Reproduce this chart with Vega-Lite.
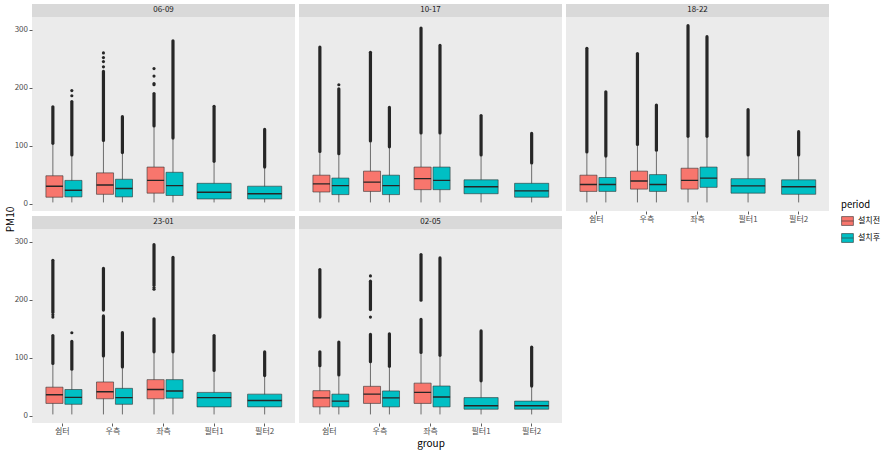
{
"$schema": "https://vega.github.io/schema/vega-lite/v6.json",
"background": "white",
"padding": {"left": 5, "top": 4, "right": 5, "bottom": 4},
"datasets": {
"strips": [{"slot":"06-09"},{"slot":"10-17"},{"slot":"18-22"},{"slot":"23-01"},{"slot":"02-05"}],
"boxes": [
{"slot":"06-09","group":"쉼터","period":"설치전","lower":2,"q1":11,"median":30,"q3":48,"upper":102},
{"slot":"06-09","group":"쉼터","period":"설치후","lower":2,"q1":11.5,"median":23,"q3":40,"upper":82},
{"slot":"06-09","group":"우측","period":"설치전","lower":2,"q1":16,"median":32,"q3":53,"upper":107},
{"slot":"06-09","group":"우측","period":"설치후","lower":2,"q1":11.5,"median":26,"q3":42,"upper":86},
{"slot":"06-09","group":"좌측","period":"설치전","lower":2,"q1":18,"median":40,"q3":63,"upper":132},
{"slot":"06-09","group":"좌측","period":"설치후","lower":2,"q1":14,"median":31,"q3":54,"upper":111},
{"slot":"06-09","group":"필터1","period":"설치후","lower":2,"q1":8,"median":19.5,"q3":35,"upper":71},
{"slot":"06-09","group":"필터2","period":"설치후","lower":2,"q1":8,"median":17,"q3":30,"upper":61},
{"slot":"10-17","group":"쉼터","period":"설치전","lower":2,"q1":20,"median":34,"q3":49,"upper":88.5},
{"slot":"10-17","group":"쉼터","period":"설치후","lower":2,"q1":15.5,"median":31,"q3":44,"upper":84.5},
{"slot":"10-17","group":"우측","period":"설치전","lower":2,"q1":21,"median":37,"q3":56,"upper":106},
{"slot":"10-17","group":"우측","period":"설치후","lower":2,"q1":15.5,"median":31,"q3":49,"upper":96},
{"slot":"10-17","group":"좌측","period":"설치전","lower":2,"q1":24,"median":43,"q3":63,"upper":120},
{"slot":"10-17","group":"좌측","period":"설치후","lower":2,"q1":24,"median":40,"q3":63,"upper":120},
{"slot":"10-17","group":"필터1","period":"설치후","lower":2,"q1":17,"median":29,"q3":41,"upper":82},
{"slot":"10-17","group":"필터2","period":"설치후","lower":2,"q1":11,"median":22,"q3":35,"upper":68},
{"slot":"18-22","group":"쉼터","period":"설치전","lower":2,"q1":21,"median":33,"q3":49,"upper":87},
{"slot":"18-22","group":"쉼터","period":"설치후","lower":2,"q1":21,"median":33,"q3":45,"upper":80},
{"slot":"18-22","group":"우측","period":"설치전","lower":2,"q1":25,"median":39,"q3":56,"upper":100},
{"slot":"18-22","group":"우측","period":"설치후","lower":2,"q1":21,"median":33,"q3":50,"upper":90},
{"slot":"18-22","group":"좌측","period":"설치전","lower":2,"q1":25,"median":40,"q3":61,"upper":114},
{"slot":"18-22","group":"좌측","period":"설치후","lower":2,"q1":28,"median":44,"q3":63,"upper":114},
{"slot":"18-22","group":"필터1","period":"설치후","lower":2,"q1":18,"median":30.5,"q3":43,"upper":82},
{"slot":"18-22","group":"필터2","period":"설치후","lower":2,"q1":16,"median":29,"q3":41,"upper":82},
{"slot":"23-01","group":"쉼터","period":"설치전","lower":2,"q1":21,"median":36,"q3":49,"upper":88},
{"slot":"23-01","group":"쉼터","period":"설치후","lower":2,"q1":19.5,"median":31.5,"q3":45,"upper":78},
{"slot":"23-01","group":"우측","period":"설치전","lower":2,"q1":29,"median":41,"q3":58,"upper":101},
{"slot":"23-01","group":"우측","period":"설치후","lower":2,"q1":19.5,"median":31,"q3":47,"upper":82},
{"slot":"23-01","group":"좌측","period":"설치전","lower":2,"q1":29,"median":45,"q3":62,"upper":108},
{"slot":"23-01","group":"좌측","period":"설치후","lower":2,"q1":30,"median":42.5,"q3":62,"upper":108},
{"slot":"23-01","group":"필터1","period":"설치후","lower":2,"q1":15,"median":31,"q3":40,"upper":76},
{"slot":"23-01","group":"필터2","period":"설치후","lower":2,"q1":15,"median":26,"q3":37,"upper":67},
{"slot":"02-05","group":"쉼터","period":"설치전","lower":2,"q1":15,"median":30.5,"q3":43,"upper":84},
{"slot":"02-05","group":"쉼터","period":"설치후","lower":2,"q1":15,"median":25,"q3":37,"upper":68},
{"slot":"02-05","group":"우측","period":"설치전","lower":2,"q1":21,"median":37,"q3":50.5,"upper":91},
{"slot":"02-05","group":"우측","period":"설치후","lower":2,"q1":15,"median":30.5,"q3":42.5,"upper":83},
{"slot":"02-05","group":"좌측","period":"설치전","lower":2,"q1":21,"median":40,"q3":56,"upper":107},
{"slot":"02-05","group":"좌측","period":"설치후","lower":2,"q1":15,"median":32,"q3":51,"upper":102},
{"slot":"02-05","group":"필터1","period":"설치후","lower":2,"q1":11,"median":17,"q3":31,"upper":58},
{"slot":"02-05","group":"필터2","period":"설치후","lower":2,"q1":11,"median":17,"q3":25,"upper":49}
],
"outliers": [
{"slot":"06-09","group":"쉼터","period":"설치전","from":104,"to":167},
{"slot":"06-09","group":"쉼터","period":"설치후","from":84,"to":176},
{"slot":"06-09","group":"우측","period":"설치전","from":109,"to":228},
{"slot":"06-09","group":"우측","period":"설치후","from":88,"to":150},
{"slot":"06-09","group":"좌측","period":"설치전","from":134,"to":190},
{"slot":"06-09","group":"좌측","period":"설치후","from":113,"to":281},
{"slot":"06-09","group":"필터1","period":"설치후","from":73,"to":168},
{"slot":"06-09","group":"필터2","period":"설치후","from":63,"to":128},
{"slot":"10-17","group":"쉼터","period":"설치전","from":90,"to":270},
{"slot":"10-17","group":"쉼터","period":"설치후","from":86,"to":198},
{"slot":"10-17","group":"우측","period":"설치전","from":108,"to":261},
{"slot":"10-17","group":"우측","period":"설치후","from":98,"to":166},
{"slot":"10-17","group":"좌측","period":"설치전","from":122,"to":303},
{"slot":"10-17","group":"좌측","period":"설치후","from":122,"to":273},
{"slot":"10-17","group":"필터1","period":"설치후","from":84,"to":152},
{"slot":"10-17","group":"필터2","period":"설치후","from":70,"to":121},
{"slot":"18-22","group":"쉼터","period":"설치전","from":89,"to":268},
{"slot":"18-22","group":"쉼터","period":"설치후","from":82,"to":193},
{"slot":"18-22","group":"우측","period":"설치전","from":102,"to":259},
{"slot":"18-22","group":"우측","period":"설치후","from":92,"to":170},
{"slot":"18-22","group":"좌측","period":"설치전","from":116,"to":307},
{"slot":"18-22","group":"좌측","period":"설치후","from":116,"to":288},
{"slot":"18-22","group":"필터1","period":"설치후","from":84,"to":162},
{"slot":"18-22","group":"필터2","period":"설치후","from":84,"to":124},
{"slot":"23-01","group":"쉼터","period":"설치전","from":90,"to":138},
{"slot":"23-01","group":"쉼터","period":"설치전","from":178,"to":268},
{"slot":"23-01","group":"쉼터","period":"설치후","from":80,"to":128},
{"slot":"23-01","group":"우측","period":"설치전","from":103,"to":172},
{"slot":"23-01","group":"우측","period":"설치전","from":182,"to":254},
{"slot":"23-01","group":"우측","period":"설치후","from":84,"to":143},
{"slot":"23-01","group":"좌측","period":"설치전","from":110,"to":167},
{"slot":"23-01","group":"좌측","period":"설치전","from":225,"to":295},
{"slot":"23-01","group":"좌측","period":"설치후","from":110,"to":273},
{"slot":"23-01","group":"필터1","period":"설치후","from":78,"to":138},
{"slot":"23-01","group":"필터2","period":"설치후","from":69,"to":110},
{"slot":"02-05","group":"쉼터","period":"설치전","from":86,"to":110},
{"slot":"02-05","group":"쉼터","period":"설치전","from":170,"to":252},
{"slot":"02-05","group":"쉼터","period":"설치후","from":70,"to":127},
{"slot":"02-05","group":"우측","period":"설치전","from":93,"to":140},
{"slot":"02-05","group":"우측","period":"설치전","from":183,"to":232},
{"slot":"02-05","group":"우측","period":"설치후","from":85,"to":141},
{"slot":"02-05","group":"좌측","period":"설치전","from":109,"to":166},
{"slot":"02-05","group":"좌측","period":"설치전","from":199,"to":278},
{"slot":"02-05","group":"좌측","period":"설치후","from":104,"to":272},
{"slot":"02-05","group":"필터1","period":"설치후","from":60,"to":146},
{"slot":"02-05","group":"필터2","period":"설치후","from":51,"to":118}
],
"points": [
{"slot":"06-09","group":"쉼터","period":"설치후","value":186},
{"slot":"06-09","group":"쉼터","period":"설치후","value":195},
{"slot":"06-09","group":"우측","period":"설치전","value":236},
{"slot":"06-09","group":"우측","period":"설치전","value":245},
{"slot":"06-09","group":"우측","period":"설치전","value":252},
{"slot":"06-09","group":"우측","period":"설치전","value":260},
{"slot":"06-09","group":"좌측","period":"설치전","value":205},
{"slot":"06-09","group":"좌측","period":"설치전","value":207},
{"slot":"06-09","group":"좌측","period":"설치전","value":220},
{"slot":"06-09","group":"좌측","period":"설치전","value":233},
{"slot":"10-17","group":"쉼터","period":"설치후","value":205},
{"slot":"23-01","group":"쉼터","period":"설치전","value":170},
{"slot":"23-01","group":"쉼터","period":"설치전","value":174},
{"slot":"23-01","group":"쉼터","period":"설치후","value":143},
{"slot":"23-01","group":"좌측","period":"설치전","value":218},
{"slot":"23-01","group":"좌측","period":"설치전","value":221},
{"slot":"02-05","group":"우측","period":"설치전","value":170},
{"slot":"02-05","group":"우측","period":"설치전","value":241}
]
},
"concat": [
{"width": 263, "height": 207, "layer": [
{"data": {"name": "strips"}, "transform": [{"filter": "datum.slot === '06-09'"}], "mark": {"type": "rect", "fill": "#D9D9D9"}, "encoding": {"y": {"datum": 322, "type": "quantitative", "scale": {"domain": [-12.8, 344.4], "nice": false, "zero": false}, "axis": {"values": [0,50,100,150,200,250,300], "labelExpr": "datum.value % 100 === 0 ? datum.label : ''", "tickOpacity": {"condition": {"test": "datum.value % 100 === 0", "value": 1}, "value": 0}, "gridWidth": {"condition": {"test": "datum.value % 100 === 0", "value": 1.1}, "value": 0.5}, "title": null}}, "y2": {"datum": 344.4}}},
{"data": {"name": "strips"}, "transform": [{"filter": "datum.slot === '06-09'"}], "mark": {"type": "text", "fontSize": 8, "color": "#1A1A1A", "baseline": "middle"}, "encoding": {"y": {"datum": 333.2, "type": "quantitative"}, "text": {"field": "slot", "type": "nominal"}}},
{"data": {"name": "boxes"}, "transform": [{"filter": "datum.slot === '06-09' && datum.group !== '필터1' && datum.group !== '필터2'"}], "mark": {"type": "rule", "color": "#4D4D4D", "strokeWidth": 0.8}, "encoding": {"x": {"field": "group", "type": "nominal", "scale": {"domain": ["쉼터","우측","좌측","필터1","필터2"], "paddingInner": 0, "paddingOuter": 0.1}, "axis": {"bandPosition": 0.5, "labels": false, "ticks": false, "title": null, "gridWidth": 1.1}}, "xOffset": {"field": "period", "type": "nominal", "scale": {"domain": ["설치전","설치후"], "paddingInner": 0, "paddingOuter": 0.3333}}, "y": {"field": "lower", "type": "quantitative"}, "y2": {"field": "upper"}}},
{"data": {"name": "boxes"}, "transform": [{"filter": "datum.slot === '06-09' && datum.group !== '필터1' && datum.group !== '필터2'"}], "mark": {"type": "bar", "width": {"band": 0.9}, "stroke": "#333333", "strokeWidth": 0.6}, "encoding": {"x": {"field": "group", "type": "nominal"}, "xOffset": {"field": "period", "type": "nominal"}, "y": {"field": "q1", "type": "quantitative"}, "y2": {"field": "q3"}, "fill": {"field": "period", "type": "nominal", "scale": {"domain": ["설치전","설치후"], "range": ["#F8766D","#00BFC4"]}, "legend": {"title": "period"}}}},
{"data": {"name": "boxes"}, "transform": [{"filter": "datum.slot === '06-09' && datum.group !== '필터1' && datum.group !== '필터2'"}], "mark": {"type": "bar", "width": {"band": 0.9}, "fill": "#262626", "stroke": "#262626", "strokeWidth": 1.4}, "encoding": {"x": {"field": "group", "type": "nominal"}, "xOffset": {"field": "period", "type": "nominal"}, "y": {"field": "median", "type": "quantitative"}, "y2": {"field": "median"}}},
{"data": {"name": "outliers"}, "transform": [{"filter": "datum.slot === '06-09' && datum.group !== '필터1' && datum.group !== '필터2'"}], "mark": {"type": "rule", "color": "#262626", "strokeWidth": 3.2, "strokeCap": "round"}, "encoding": {"x": {"field": "group", "type": "nominal"}, "xOffset": {"field": "period", "type": "nominal"}, "y": {"field": "from", "type": "quantitative"}, "y2": {"field": "to"}}},
{"data": {"name": "points"}, "transform": [{"filter": "datum.slot === '06-09'"}], "mark": {"type": "circle", "size": 10, "color": "#262626", "opacity": 1}, "encoding": {"x": {"field": "group", "type": "nominal"}, "xOffset": {"field": "period", "type": "nominal"}, "y": {"field": "value", "type": "quantitative"}}},
{"data": {"name": "boxes"}, "transform": [{"filter": "datum.slot === '06-09' && (datum.group === '필터1' || datum.group === '필터2')"}], "mark": {"type": "rule", "color": "#4D4D4D", "strokeWidth": 0.8}, "encoding": {"x": {"field": "group", "type": "nominal"}, "y": {"field": "lower", "type": "quantitative"}, "y2": {"field": "upper"}}},
{"data": {"name": "boxes"}, "transform": [{"filter": "datum.slot === '06-09' && (datum.group === '필터1' || datum.group === '필터2')"}], "mark": {"type": "bar", "width": {"band": 0.675}, "stroke": "#333333", "strokeWidth": 0.6}, "encoding": {"x": {"field": "group", "type": "nominal"}, "y": {"field": "q1", "type": "quantitative"}, "y2": {"field": "q3"}, "fill": {"field": "period", "type": "nominal"}}},
{"data": {"name": "boxes"}, "transform": [{"filter": "datum.slot === '06-09' && (datum.group === '필터1' || datum.group === '필터2')"}], "mark": {"type": "bar", "width": {"band": 0.675}, "fill": "#262626", "stroke": "#262626", "strokeWidth": 1.4}, "encoding": {"x": {"field": "group", "type": "nominal"}, "y": {"field": "median", "type": "quantitative"}, "y2": {"field": "median"}}},
{"data": {"name": "outliers"}, "transform": [{"filter": "datum.slot === '06-09' && (datum.group === '필터1' || datum.group === '필터2')"}], "mark": {"type": "rule", "color": "#262626", "strokeWidth": 3.2, "strokeCap": "round"}, "encoding": {"x": {"field": "group", "type": "nominal"}, "y": {"field": "from", "type": "quantitative"}, "y2": {"field": "to"}}}
]},
{"width": 263, "height": 207, "layer": [
{"data": {"name": "strips"}, "transform": [{"filter": "datum.slot === '10-17'"}], "mark": {"type": "rect", "fill": "#D9D9D9"}, "encoding": {"y": {"datum": 322, "type": "quantitative", "scale": {"domain": [-12.8, 344.4], "nice": false, "zero": false}, "axis": {"values": [0,50,100,150,200,250,300], "labels": false, "ticks": false, "gridWidth": {"condition": {"test": "datum.value % 100 === 0", "value": 1.1}, "value": 0.5}, "title": null}}, "y2": {"datum": 344.4}}},
{"data": {"name": "strips"}, "transform": [{"filter": "datum.slot === '10-17'"}], "mark": {"type": "text", "fontSize": 8, "color": "#1A1A1A", "baseline": "middle"}, "encoding": {"y": {"datum": 333.2, "type": "quantitative"}, "text": {"field": "slot", "type": "nominal"}}},
{"data": {"name": "boxes"}, "transform": [{"filter": "datum.slot === '10-17' && datum.group !== '필터1' && datum.group !== '필터2'"}], "mark": {"type": "rule", "color": "#4D4D4D", "strokeWidth": 0.8}, "encoding": {"x": {"field": "group", "type": "nominal", "scale": {"domain": ["쉼터","우측","좌측","필터1","필터2"], "paddingInner": 0, "paddingOuter": 0.1}, "axis": {"bandPosition": 0.5, "labels": false, "ticks": false, "title": null, "gridWidth": 1.1}}, "xOffset": {"field": "period", "type": "nominal", "scale": {"domain": ["설치전","설치후"], "paddingInner": 0, "paddingOuter": 0.3333}}, "y": {"field": "lower", "type": "quantitative"}, "y2": {"field": "upper"}}},
{"data": {"name": "boxes"}, "transform": [{"filter": "datum.slot === '10-17' && datum.group !== '필터1' && datum.group !== '필터2'"}], "mark": {"type": "bar", "width": {"band": 0.9}, "stroke": "#333333", "strokeWidth": 0.6}, "encoding": {"x": {"field": "group", "type": "nominal"}, "xOffset": {"field": "period", "type": "nominal"}, "y": {"field": "q1", "type": "quantitative"}, "y2": {"field": "q3"}, "fill": {"field": "period", "type": "nominal"}}},
{"data": {"name": "boxes"}, "transform": [{"filter": "datum.slot === '10-17' && datum.group !== '필터1' && datum.group !== '필터2'"}], "mark": {"type": "bar", "width": {"band": 0.9}, "fill": "#262626", "stroke": "#262626", "strokeWidth": 1.4}, "encoding": {"x": {"field": "group", "type": "nominal"}, "xOffset": {"field": "period", "type": "nominal"}, "y": {"field": "median", "type": "quantitative"}, "y2": {"field": "median"}}},
{"data": {"name": "outliers"}, "transform": [{"filter": "datum.slot === '10-17' && datum.group !== '필터1' && datum.group !== '필터2'"}], "mark": {"type": "rule", "color": "#262626", "strokeWidth": 3.2, "strokeCap": "round"}, "encoding": {"x": {"field": "group", "type": "nominal"}, "xOffset": {"field": "period", "type": "nominal"}, "y": {"field": "from", "type": "quantitative"}, "y2": {"field": "to"}}},
{"data": {"name": "points"}, "transform": [{"filter": "datum.slot === '10-17'"}], "mark": {"type": "circle", "size": 10, "color": "#262626", "opacity": 1}, "encoding": {"x": {"field": "group", "type": "nominal"}, "xOffset": {"field": "period", "type": "nominal"}, "y": {"field": "value", "type": "quantitative"}}},
{"data": {"name": "boxes"}, "transform": [{"filter": "datum.slot === '10-17' && (datum.group === '필터1' || datum.group === '필터2')"}], "mark": {"type": "rule", "color": "#4D4D4D", "strokeWidth": 0.8}, "encoding": {"x": {"field": "group", "type": "nominal"}, "y": {"field": "lower", "type": "quantitative"}, "y2": {"field": "upper"}}},
{"data": {"name": "boxes"}, "transform": [{"filter": "datum.slot === '10-17' && (datum.group === '필터1' || datum.group === '필터2')"}], "mark": {"type": "bar", "width": {"band": 0.675}, "stroke": "#333333", "strokeWidth": 0.6}, "encoding": {"x": {"field": "group", "type": "nominal"}, "y": {"field": "q1", "type": "quantitative"}, "y2": {"field": "q3"}, "fill": {"field": "period", "type": "nominal"}}},
{"data": {"name": "boxes"}, "transform": [{"filter": "datum.slot === '10-17' && (datum.group === '필터1' || datum.group === '필터2')"}], "mark": {"type": "bar", "width": {"band": 0.675}, "fill": "#262626", "stroke": "#262626", "strokeWidth": 1.4}, "encoding": {"x": {"field": "group", "type": "nominal"}, "y": {"field": "median", "type": "quantitative"}, "y2": {"field": "median"}}},
{"data": {"name": "outliers"}, "transform": [{"filter": "datum.slot === '10-17' && (datum.group === '필터1' || datum.group === '필터2')"}], "mark": {"type": "rule", "color": "#262626", "strokeWidth": 3.2, "strokeCap": "round"}, "encoding": {"x": {"field": "group", "type": "nominal"}, "y": {"field": "from", "type": "quantitative"}, "y2": {"field": "to"}}}
]},
{"width": 263, "height": 207, "layer": [
{"data": {"name": "strips"}, "transform": [{"filter": "datum.slot === '18-22'"}], "mark": {"type": "rect", "fill": "#D9D9D9"}, "encoding": {"y": {"datum": 322, "type": "quantitative", "scale": {"domain": [-12.8, 344.4], "nice": false, "zero": false}, "axis": {"values": [0,50,100,150,200,250,300], "labels": false, "ticks": false, "gridWidth": {"condition": {"test": "datum.value % 100 === 0", "value": 1.1}, "value": 0.5}, "title": null}}, "y2": {"datum": 344.4}}},
{"data": {"name": "strips"}, "transform": [{"filter": "datum.slot === '18-22'"}], "mark": {"type": "text", "fontSize": 8, "color": "#1A1A1A", "baseline": "middle"}, "encoding": {"y": {"datum": 333.2, "type": "quantitative"}, "text": {"field": "slot", "type": "nominal"}}},
{"data": {"name": "boxes"}, "transform": [{"filter": "datum.slot === '18-22' && datum.group !== '필터1' && datum.group !== '필터2'"}], "mark": {"type": "rule", "color": "#4D4D4D", "strokeWidth": 0.8}, "encoding": {"x": {"field": "group", "type": "nominal", "scale": {"domain": ["쉼터","우측","좌측","필터1","필터2"], "paddingInner": 0, "paddingOuter": 0.1}, "axis": {"bandPosition": 0.5, "labelAngle": 0, "title": null, "gridWidth": 1.1}}, "xOffset": {"field": "period", "type": "nominal", "scale": {"domain": ["설치전","설치후"], "paddingInner": 0, "paddingOuter": 0.3333}}, "y": {"field": "lower", "type": "quantitative"}, "y2": {"field": "upper"}}},
{"data": {"name": "boxes"}, "transform": [{"filter": "datum.slot === '18-22' && datum.group !== '필터1' && datum.group !== '필터2'"}], "mark": {"type": "bar", "width": {"band": 0.9}, "stroke": "#333333", "strokeWidth": 0.6}, "encoding": {"x": {"field": "group", "type": "nominal"}, "xOffset": {"field": "period", "type": "nominal"}, "y": {"field": "q1", "type": "quantitative"}, "y2": {"field": "q3"}, "fill": {"field": "period", "type": "nominal"}}},
{"data": {"name": "boxes"}, "transform": [{"filter": "datum.slot === '18-22' && datum.group !== '필터1' && datum.group !== '필터2'"}], "mark": {"type": "bar", "width": {"band": 0.9}, "fill": "#262626", "stroke": "#262626", "strokeWidth": 1.4}, "encoding": {"x": {"field": "group", "type": "nominal"}, "xOffset": {"field": "period", "type": "nominal"}, "y": {"field": "median", "type": "quantitative"}, "y2": {"field": "median"}}},
{"data": {"name": "outliers"}, "transform": [{"filter": "datum.slot === '18-22' && datum.group !== '필터1' && datum.group !== '필터2'"}], "mark": {"type": "rule", "color": "#262626", "strokeWidth": 3.2, "strokeCap": "round"}, "encoding": {"x": {"field": "group", "type": "nominal"}, "xOffset": {"field": "period", "type": "nominal"}, "y": {"field": "from", "type": "quantitative"}, "y2": {"field": "to"}}},
{"data": {"name": "boxes"}, "transform": [{"filter": "datum.slot === '18-22' && (datum.group === '필터1' || datum.group === '필터2')"}], "mark": {"type": "rule", "color": "#4D4D4D", "strokeWidth": 0.8}, "encoding": {"x": {"field": "group", "type": "nominal"}, "y": {"field": "lower", "type": "quantitative"}, "y2": {"field": "upper"}}},
{"data": {"name": "boxes"}, "transform": [{"filter": "datum.slot === '18-22' && (datum.group === '필터1' || datum.group === '필터2')"}], "mark": {"type": "bar", "width": {"band": 0.675}, "stroke": "#333333", "strokeWidth": 0.6}, "encoding": {"x": {"field": "group", "type": "nominal"}, "y": {"field": "q1", "type": "quantitative"}, "y2": {"field": "q3"}, "fill": {"field": "period", "type": "nominal"}}},
{"data": {"name": "boxes"}, "transform": [{"filter": "datum.slot === '18-22' && (datum.group === '필터1' || datum.group === '필터2')"}], "mark": {"type": "bar", "width": {"band": 0.675}, "fill": "#262626", "stroke": "#262626", "strokeWidth": 1.4}, "encoding": {"x": {"field": "group", "type": "nominal"}, "y": {"field": "median", "type": "quantitative"}, "y2": {"field": "median"}}},
{"data": {"name": "outliers"}, "transform": [{"filter": "datum.slot === '18-22' && (datum.group === '필터1' || datum.group === '필터2')"}], "mark": {"type": "rule", "color": "#262626", "strokeWidth": 3.2, "strokeCap": "round"}, "encoding": {"x": {"field": "group", "type": "nominal"}, "y": {"field": "from", "type": "quantitative"}, "y2": {"field": "to"}}}
]},
{"width": 263, "height": 207, "layer": [
{"data": {"name": "strips"}, "transform": [{"filter": "datum.slot === '23-01'"}], "mark": {"type": "rect", "fill": "#D9D9D9"}, "encoding": {"y": {"datum": 322, "type": "quantitative", "scale": {"domain": [-12.8, 344.4], "nice": false, "zero": false}, "axis": {"values": [0,50,100,150,200,250,300], "labelExpr": "datum.value % 100 === 0 ? datum.label : ''", "tickOpacity": {"condition": {"test": "datum.value % 100 === 0", "value": 1}, "value": 0}, "gridWidth": {"condition": {"test": "datum.value % 100 === 0", "value": 1.1}, "value": 0.5}, "title": "PM10", "titleX": -17, "titleY": 3}}, "y2": {"datum": 344.4}}},
{"data": {"name": "strips"}, "transform": [{"filter": "datum.slot === '23-01'"}], "mark": {"type": "text", "fontSize": 8, "color": "#1A1A1A", "baseline": "middle"}, "encoding": {"y": {"datum": 333.2, "type": "quantitative"}, "text": {"field": "slot", "type": "nominal"}}},
{"data": {"name": "boxes"}, "transform": [{"filter": "datum.slot === '23-01' && datum.group !== '필터1' && datum.group !== '필터2'"}], "mark": {"type": "rule", "color": "#4D4D4D", "strokeWidth": 0.8}, "encoding": {"x": {"field": "group", "type": "nominal", "scale": {"domain": ["쉼터","우측","좌측","필터1","필터2"], "paddingInner": 0, "paddingOuter": 0.1}, "axis": {"bandPosition": 0.5, "labelAngle": 0, "title": null, "gridWidth": 1.1}}, "xOffset": {"field": "period", "type": "nominal", "scale": {"domain": ["설치전","설치후"], "paddingInner": 0, "paddingOuter": 0.3333}}, "y": {"field": "lower", "type": "quantitative"}, "y2": {"field": "upper"}}},
{"data": {"name": "boxes"}, "transform": [{"filter": "datum.slot === '23-01' && datum.group !== '필터1' && datum.group !== '필터2'"}], "mark": {"type": "bar", "width": {"band": 0.9}, "stroke": "#333333", "strokeWidth": 0.6}, "encoding": {"x": {"field": "group", "type": "nominal"}, "xOffset": {"field": "period", "type": "nominal"}, "y": {"field": "q1", "type": "quantitative"}, "y2": {"field": "q3"}, "fill": {"field": "period", "type": "nominal"}}},
{"data": {"name": "boxes"}, "transform": [{"filter": "datum.slot === '23-01' && datum.group !== '필터1' && datum.group !== '필터2'"}], "mark": {"type": "bar", "width": {"band": 0.9}, "fill": "#262626", "stroke": "#262626", "strokeWidth": 1.4}, "encoding": {"x": {"field": "group", "type": "nominal"}, "xOffset": {"field": "period", "type": "nominal"}, "y": {"field": "median", "type": "quantitative"}, "y2": {"field": "median"}}},
{"data": {"name": "outliers"}, "transform": [{"filter": "datum.slot === '23-01' && datum.group !== '필터1' && datum.group !== '필터2'"}], "mark": {"type": "rule", "color": "#262626", "strokeWidth": 3.2, "strokeCap": "round"}, "encoding": {"x": {"field": "group", "type": "nominal"}, "xOffset": {"field": "period", "type": "nominal"}, "y": {"field": "from", "type": "quantitative"}, "y2": {"field": "to"}}},
{"data": {"name": "points"}, "transform": [{"filter": "datum.slot === '23-01'"}], "mark": {"type": "circle", "size": 10, "color": "#262626", "opacity": 1}, "encoding": {"x": {"field": "group", "type": "nominal"}, "xOffset": {"field": "period", "type": "nominal"}, "y": {"field": "value", "type": "quantitative"}}},
{"data": {"name": "boxes"}, "transform": [{"filter": "datum.slot === '23-01' && (datum.group === '필터1' || datum.group === '필터2')"}], "mark": {"type": "rule", "color": "#4D4D4D", "strokeWidth": 0.8}, "encoding": {"x": {"field": "group", "type": "nominal"}, "y": {"field": "lower", "type": "quantitative"}, "y2": {"field": "upper"}}},
{"data": {"name": "boxes"}, "transform": [{"filter": "datum.slot === '23-01' && (datum.group === '필터1' || datum.group === '필터2')"}], "mark": {"type": "bar", "width": {"band": 0.675}, "stroke": "#333333", "strokeWidth": 0.6}, "encoding": {"x": {"field": "group", "type": "nominal"}, "y": {"field": "q1", "type": "quantitative"}, "y2": {"field": "q3"}, "fill": {"field": "period", "type": "nominal"}}},
{"data": {"name": "boxes"}, "transform": [{"filter": "datum.slot === '23-01' && (datum.group === '필터1' || datum.group === '필터2')"}], "mark": {"type": "bar", "width": {"band": 0.675}, "fill": "#262626", "stroke": "#262626", "strokeWidth": 1.4}, "encoding": {"x": {"field": "group", "type": "nominal"}, "y": {"field": "median", "type": "quantitative"}, "y2": {"field": "median"}}},
{"data": {"name": "outliers"}, "transform": [{"filter": "datum.slot === '23-01' && (datum.group === '필터1' || datum.group === '필터2')"}], "mark": {"type": "rule", "color": "#262626", "strokeWidth": 3.2, "strokeCap": "round"}, "encoding": {"x": {"field": "group", "type": "nominal"}, "y": {"field": "from", "type": "quantitative"}, "y2": {"field": "to"}}}
]},
{"width": 263, "height": 207, "layer": [
{"data": {"name": "strips"}, "transform": [{"filter": "datum.slot === '02-05'"}], "mark": {"type": "rect", "fill": "#D9D9D9"}, "encoding": {"y": {"datum": 322, "type": "quantitative", "scale": {"domain": [-12.8, 344.4], "nice": false, "zero": false}, "axis": {"values": [0,50,100,150,200,250,300], "labels": false, "ticks": false, "gridWidth": {"condition": {"test": "datum.value % 100 === 0", "value": 1.1}, "value": 0.5}, "title": null}}, "y2": {"datum": 344.4}}},
{"data": {"name": "strips"}, "transform": [{"filter": "datum.slot === '02-05'"}], "mark": {"type": "text", "fontSize": 8, "color": "#1A1A1A", "baseline": "middle"}, "encoding": {"y": {"datum": 333.2, "type": "quantitative"}, "text": {"field": "slot", "type": "nominal"}}},
{"data": {"name": "boxes"}, "transform": [{"filter": "datum.slot === '02-05' && datum.group !== '필터1' && datum.group !== '필터2'"}], "mark": {"type": "rule", "color": "#4D4D4D", "strokeWidth": 0.8}, "encoding": {"x": {"field": "group", "type": "nominal", "scale": {"domain": ["쉼터","우측","좌측","필터1","필터2"], "paddingInner": 0, "paddingOuter": 0.1}, "axis": {"bandPosition": 0.5, "labelAngle": 0, "title": "group", "gridWidth": 1.1}}, "xOffset": {"field": "period", "type": "nominal", "scale": {"domain": ["설치전","설치후"], "paddingInner": 0, "paddingOuter": 0.3333}}, "y": {"field": "lower", "type": "quantitative"}, "y2": {"field": "upper"}}},
{"data": {"name": "boxes"}, "transform": [{"filter": "datum.slot === '02-05' && datum.group !== '필터1' && datum.group !== '필터2'"}], "mark": {"type": "bar", "width": {"band": 0.9}, "stroke": "#333333", "strokeWidth": 0.6}, "encoding": {"x": {"field": "group", "type": "nominal"}, "xOffset": {"field": "period", "type": "nominal"}, "y": {"field": "q1", "type": "quantitative"}, "y2": {"field": "q3"}, "fill": {"field": "period", "type": "nominal"}}},
{"data": {"name": "boxes"}, "transform": [{"filter": "datum.slot === '02-05' && datum.group !== '필터1' && datum.group !== '필터2'"}], "mark": {"type": "bar", "width": {"band": 0.9}, "fill": "#262626", "stroke": "#262626", "strokeWidth": 1.4}, "encoding": {"x": {"field": "group", "type": "nominal"}, "xOffset": {"field": "period", "type": "nominal"}, "y": {"field": "median", "type": "quantitative"}, "y2": {"field": "median"}}},
{"data": {"name": "outliers"}, "transform": [{"filter": "datum.slot === '02-05' && datum.group !== '필터1' && datum.group !== '필터2'"}], "mark": {"type": "rule", "color": "#262626", "strokeWidth": 3.2, "strokeCap": "round"}, "encoding": {"x": {"field": "group", "type": "nominal"}, "xOffset": {"field": "period", "type": "nominal"}, "y": {"field": "from", "type": "quantitative"}, "y2": {"field": "to"}}},
{"data": {"name": "points"}, "transform": [{"filter": "datum.slot === '02-05'"}], "mark": {"type": "circle", "size": 10, "color": "#262626", "opacity": 1}, "encoding": {"x": {"field": "group", "type": "nominal"}, "xOffset": {"field": "period", "type": "nominal"}, "y": {"field": "value", "type": "quantitative"}}},
{"data": {"name": "boxes"}, "transform": [{"filter": "datum.slot === '02-05' && (datum.group === '필터1' || datum.group === '필터2')"}], "mark": {"type": "rule", "color": "#4D4D4D", "strokeWidth": 0.8}, "encoding": {"x": {"field": "group", "type": "nominal"}, "y": {"field": "lower", "type": "quantitative"}, "y2": {"field": "upper"}}},
{"data": {"name": "boxes"}, "transform": [{"filter": "datum.slot === '02-05' && (datum.group === '필터1' || datum.group === '필터2')"}], "mark": {"type": "bar", "width": {"band": 0.675}, "stroke": "#333333", "strokeWidth": 0.6}, "encoding": {"x": {"field": "group", "type": "nominal"}, "y": {"field": "q1", "type": "quantitative"}, "y2": {"field": "q3"}, "fill": {"field": "period", "type": "nominal"}}},
{"data": {"name": "boxes"}, "transform": [{"filter": "datum.slot === '02-05' && (datum.group === '필터1' || datum.group === '필터2')"}], "mark": {"type": "bar", "width": {"band": 0.675}, "fill": "#262626", "stroke": "#262626", "strokeWidth": 1.4}, "encoding": {"x": {"field": "group", "type": "nominal"}, "y": {"field": "median", "type": "quantitative"}, "y2": {"field": "median"}}},
{"data": {"name": "outliers"}, "transform": [{"filter": "datum.slot === '02-05' && (datum.group === '필터1' || datum.group === '필터2')"}], "mark": {"type": "rule", "color": "#262626", "strokeWidth": 3.2, "strokeCap": "round"}, "encoding": {"x": {"field": "group", "type": "nominal"}, "y": {"field": "from", "type": "quantitative"}, "y2": {"field": "to"}}}
]}
],
"columns": 3,
"spacing": {"row": 5, "column": 4},
"bounds": "flush",
"config": {
"font": "Noto Sans CJK KR",
"view": {"fill": "#EBEBEB", "stroke": null},
"axis": {"domain": false, "gridColor": "#FFFFFF", "tickColor": "#333333", "tickSize": 3, "tickWidth": 0.8, "labelColor": "#4D4D4D", "labelFontSize": 8, "labelPadding": 1.5, "titleFontSize": 10, "titleFontWeight": "normal", "titleColor": "#000000", "titlePadding": 3},
"legend": {"orient": "none", "legendX": 809, "legendY": 196, "titleFontSize": 9.5, "titleFontWeight": "normal", "titleColor": "#000000", "labelFontSize": 8, "labelColor": "#000000", "symbolType": "M-1,-0.75H1V0.75H-1Z M-1,0H1", "symbolSize": 140, "symbolStrokeColor": "#333333", "symbolStrokeWidth": 0.6, "rowPadding": 4, "titlePadding": 5}
}
}
